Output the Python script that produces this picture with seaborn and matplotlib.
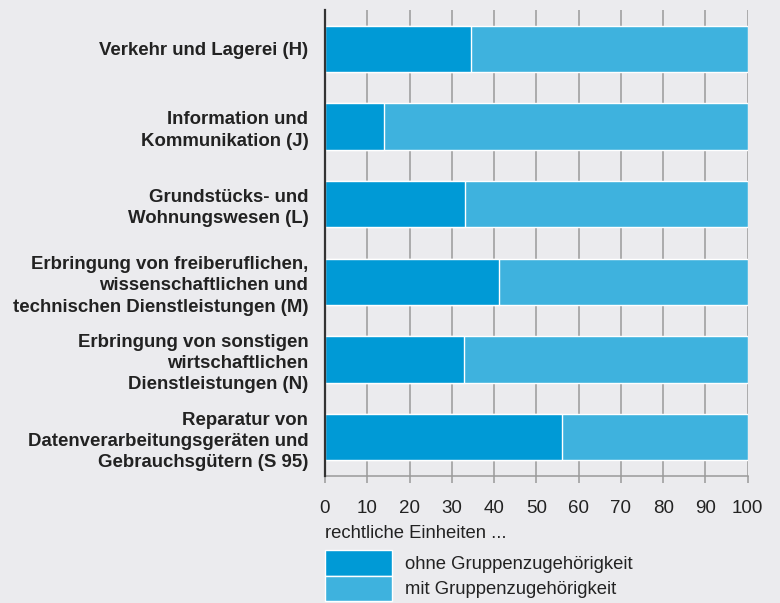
import matplotlib
matplotlib.use("Agg")
import matplotlib.pyplot as plt
import seaborn as sns
import pandas as pd
from matplotlib.patches import Patch

categories = [
    "Verkehr und Lagerei (H)",
    "Information und\nKommunikation (J)",
    "Grundstücks- und\nWohnungswesen (L)",
    "Erbringung von freiberuflichen,\nwissenschaftlichen und\ntechnischen Dienstleistungen (M)",
    "Erbringung von sonstigen\nwirtschaftlichen\nDienstleistungen (N)",
    "Reparatur von\nDatenverarbeitungsgeräten und\nGebrauchsgütern (S 95)",
]
ohne = [34.5, 13.9, 33.1, 41.2, 32.9, 56.0]
mit = [100 - v for v in ohne]
xticks = [0, 10, 20, 30, 40, 50, 60, 70, 80, 90, 100]
series_names = ["ohne Gruppenzugehörigkeit", "mit Gruppenzugehörigkeit"]
axis_title = "rechtliche Einheiten ..."

BG = "#ebebee"
DARK = "#009ad6"
LIGHT = "#3eb2de"
TXT = "#222222"

sns.set_theme(style="white")
plt.rcParams["font.family"] = ["Liberation Sans", "DejaVu Sans"]

df = pd.DataFrame({"cat": categories, "ohne": ohne,
                   "total": [o + m for o, m in zip(ohne, mit)]})

fig = plt.figure(figsize=(7.8, 6.03), dpi=100, facecolor=BG)
ax = fig.add_axes([325 / 780, 1 - 476 / 603, (747.7 - 325) / 780, (476 - 10) / 603])
ax.set_facecolor(BG)

sns.barplot(data=df, x="total", y="cat", color=LIGHT, orient="h", width=0.6,
            edgecolor="white", linewidth=1, saturation=1, ax=ax, zorder=3)
sns.barplot(data=df, x="ohne", y="cat", color=DARK, orient="h", width=0.6,
            edgecolor="white", linewidth=1, saturation=1, ax=ax, zorder=4)

ax.set_xlim(0, 100)
ax.set_ylim(5.5, -0.5)
ax.set_xticks(xticks)
ax.set_xticklabels([str(t) for t in xticks])
for t in xticks[1:]:
    ax.axvline(t, color="#9a9a9a", lw=1.1, zorder=1)

ax.set_xlabel("")
ax.set_ylabel("")
for s in ["top", "right"]:
    ax.spines[s].set_visible(False)
ax.spines["left"].set_color("#333333")
ax.spines["left"].set_linewidth(1.6)
ax.spines["left"].set_zorder(5)
ax.spines["bottom"].set_color("#9a9a9a")
ax.spines["bottom"].set_linewidth(1.1)

ax.tick_params(axis="x", bottom=True, direction="out", length=5, width=1.1,
               color="#9a9a9a", pad=12, labelsize=13.5, labelcolor=TXT)
ax.tick_params(axis="y", left=False, pad=6, labelsize=13.4, labelcolor=TXT)
for lab in ax.get_yticklabels():
    lab.set_fontweight("bold")
    lab.set_horizontalalignment("right")
    lab.set_multialignment("right")
    lab.set_linespacing(1.32)

fig.text(325 / 780, 1 - 534 / 603, axis_title, fontsize=13.3, color=TXT,
         ha="left", va="center")

handles = [Patch(facecolor=DARK, edgecolor="white", linewidth=1),
           Patch(facecolor=LIGHT, edgecolor="white", linewidth=1)]
leg = fig.legend(handles, series_names, loc="upper left",
                 bbox_to_anchor=(325 / 780, 1 - 550 / 603),
                 frameon=False, fontsize=13.3, handlelength=3.6, handleheight=1.75,
                 handletextpad=0.75, labelspacing=0.0, borderpad=0, borderaxespad=0)
for t in leg.get_texts():
    t.set_color(TXT)

fig.savefig("out.png", dpi=100, facecolor=BG)
